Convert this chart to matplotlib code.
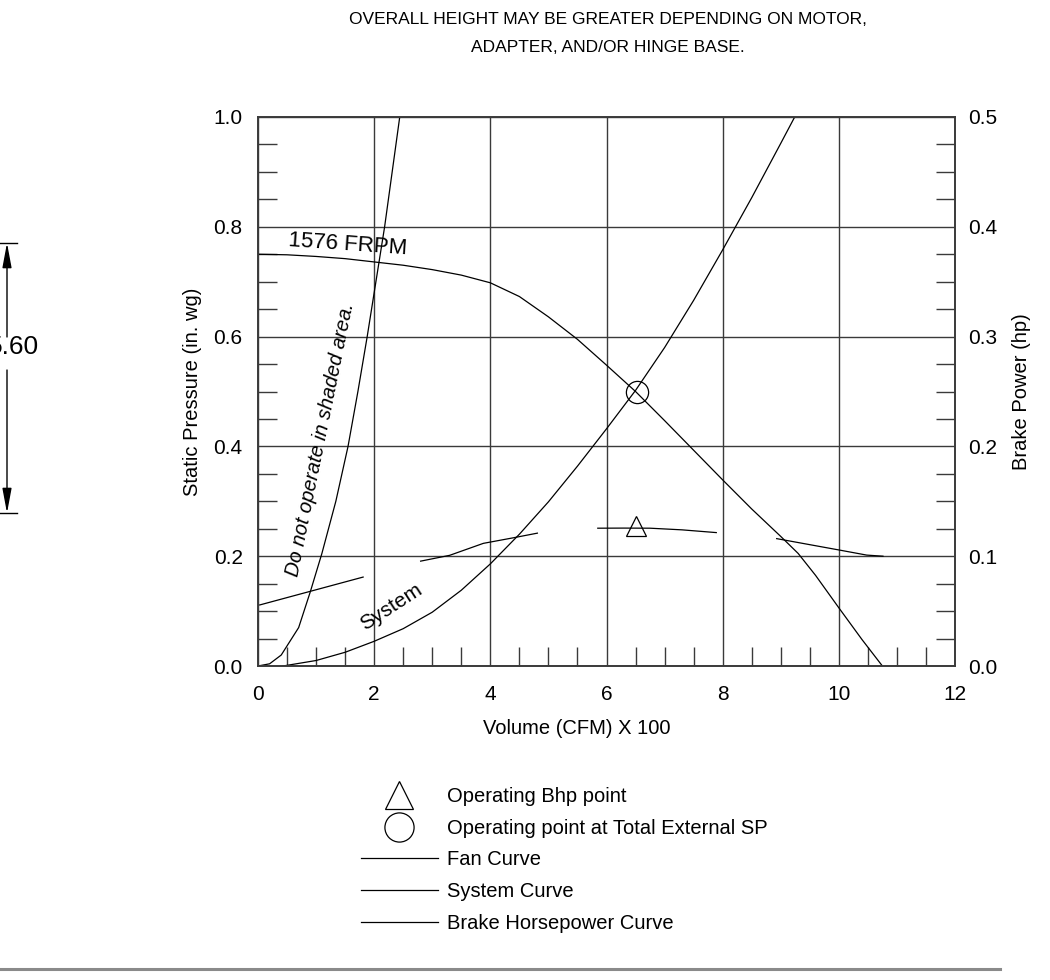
import matplotlib
matplotlib.use('Agg')
import matplotlib.pyplot as plt
from matplotlib.lines import Line2D
from matplotlib.ticker import MultipleLocator, FormatStrFormatter

plt.rcParams['font.family'] = ['Liberation Sans', 'DejaVu Sans']

# fan curve, 1576 FRPM (static pressure, in. wg)
fan_x = [0, 0.5, 1, 1.5, 2, 2.5, 3, 3.5, 4, 4.5, 5, 5.5, 6, 6.5, 7, 7.5, 8, 8.5, 9, 9.3, 9.6, 10, 10.4, 10.75]
fan_y = [0.750, 0.749, 0.746, 0.742, 0.736, 0.730, 0.722, 0.712, 0.698, 0.673, 0.636, 0.595, 0.548, 0.500,
         0.447, 0.393, 0.339, 0.286, 0.236, 0.205, 0.165, 0.106, 0.048, 0.0]

# system curve
sys_x = [0.43, 1, 1.5, 2, 2.5, 3, 3.5, 4, 4.5, 5, 5.5, 6, 6.5, 7, 7.5, 8, 8.5, 9, 9.24]
sys_y = [0.0, 0.010, 0.025, 0.045, 0.068, 0.098, 0.138, 0.186, 0.240, 0.299, 0.364, 0.432, 0.502,
         0.580, 0.666, 0.758, 0.853, 0.952, 1.0]

# "do not operate" boundary
dno_x = [0, 0.2, 0.40, 0.70, 0.90, 1.10, 1.34, 1.55, 1.72, 1.88, 2.03, 2.18, 2.31, 2.44]
dno_y = [0, 0.004, 0.020, 0.070, 0.135, 0.205, 0.300, 0.400, 0.500, 0.600, 0.700, 0.800, 0.900, 1.0]

# brake horsepower curve pieces (hp)
bhp_x = [[0.03, 1.81],
         [2.8, 3.3, 3.88, 4.4, 4.81],
         [5.85, 6.3, 6.75, 7.3, 7.89],
         [8.93, 9.5, 10.02, 10.48, 10.76]]
bhp_y = [[0.0556, 0.081],
         [0.0955, 0.1008, 0.1117, 0.1168, 0.121],
         [0.1255, 0.1256, 0.1255, 0.124, 0.1215],
         [0.116, 0.1105, 0.1055, 0.101, 0.100]]

op_sp = (6.52, 0.50)
op_bhp = (6.51, 0.1275)

W, H = 1050, 980
fig = plt.figure(figsize=(W / 100, H / 100), dpi=100)
ax = fig.add_axes([258 / W, 1 - 666 / H, 697 / W, 549 / H])
ax2 = ax.twinx()

k = 'black'
lw = 0.9
ax.plot(fan_x, fan_y, color=k, lw=lw)
ax.plot(sys_x, sys_y, color=k, lw=lw)
ax.plot(dno_x, dno_y, color=k, lw=lw)
for xs, ys in zip(bhp_x, bhp_y):
    ax2.plot(xs, ys, color=k, lw=lw)
ax.plot(*op_sp, marker='o', ms=16, mfc='none', mec=k, mew=0.9, ls='none')
ax2.plot(*op_bhp, marker='^', ms=14, mfc='none', mec=k, mew=0.9, ls='none')

ax.set_xlim(0, 12)
ax.set_ylim(0, 1.0)
ax2.set_ylim(0, 0.5)

ax.xaxis.set_major_locator(MultipleLocator(2))
ax.xaxis.set_minor_locator(MultipleLocator(0.5))
ax.yaxis.set_major_locator(MultipleLocator(0.2))
ax.yaxis.set_minor_locator(MultipleLocator(0.05))
ax.yaxis.set_major_formatter(FormatStrFormatter('%.1f'))
ax2.yaxis.set_major_locator(MultipleLocator(0.1))
ax2.yaxis.set_minor_locator(MultipleLocator(0.025))
ax2.yaxis.set_major_formatter(FormatStrFormatter('%.1f'))

ax.grid(True, which='major', color='#3a3a3a', lw=1.0)
ax.tick_params(which='major', length=0, labelsize=15)
ax.tick_params(axis='x', which='major', pad=14)
ax.tick_params(axis='y', which='major', pad=11)
ax.tick_params(which='minor', direction='in', length=13.5, width=1.0, color='#3a3a3a')
ax2.tick_params(which='major', length=0, labelsize=15, pad=9.5)
ax2.tick_params(which='minor', direction='in', length=13.5, width=1.0, color='#3a3a3a')
for a in (ax, ax2):
    for s in a.spines.values():
        s.set_color('#3a3a3a')
        s.set_linewidth(1.2)

ax.set_xlabel('Volume (CFM) X 100', fontsize=14.5)
ax.xaxis.set_label_coords(0.458, -0.096)
ax.set_ylabel('Static Pressure (in. wg)', fontsize=14.5)
ax.yaxis.set_label_coords(-0.081, 0.5)
ax2.set_ylabel('Brake Power (hp)', fontsize=14.5)
ax2.yaxis.set_label_coords(1.082, 0.5)

ax.text(1.55, 0.767, '1576 FRPM', fontsize=16, rotation=-4, ha='center', va='center')
ax.text(1.07, 0.412, 'Do not operate in shaded area.', fontsize=14.5, style='italic',
        rotation=78.5, ha='center', va='center')
ax.text(2.30, 0.108, 'System', fontsize=15, rotation=33, ha='center', va='center')

fig.text(608 / W, 1 - 20 / H, 'OVERALL HEIGHT MAY BE GREATER DEPENDING ON MOTOR,',
         fontsize=12.5, ha='center', va='center')
fig.text(608 / W, 1 - 47 / H, 'ADAPTER, AND/OR HINGE BASE.',
         fontsize=12.5, ha='center', va='center')

# legend
handles = [Line2D([], [], ls='none', marker='^', ms=20, mfc='none', mec=k, mew=0.9),
           Line2D([], [], ls='none', marker='o', ms=21, mfc='none', mec=k, mew=0.9),
           Line2D([], [], color=k, lw=lw),
           Line2D([], [], color=k, lw=lw),
           Line2D([], [], color=k, lw=lw)]
labels = ['Operating Bhp point', 'Operating point at Total External SP', 'Fan Curve', 'System Curve',
          'Brake Horsepower Curve']
fig.legend(handles, labels, loc='upper left', bbox_to_anchor=(361 / W, 1 - 787 / H), frameon=False,
           fontsize=14.5, handlelength=3.8, handletextpad=0.45, labelspacing=0.63, borderpad=0,
           borderaxespad=0)

# dimension marker on the left edge
def fp(x, y):
    return (x / W, 1 - y / H)

arrow = dict(arrowstyle='-|>,head_length=1.5,head_width=0.28', color=k, lw=1, shrinkA=0, shrinkB=0)
fig.add_artist(Line2D([0, 17 / W], [fp(0, 243)[1]] * 2, color=k, lw=1))
fig.add_artist(Line2D([0, 17 / W], [fp(0, 513)[1]] * 2, color=k, lw=1))
ax.annotate('', xy=fp(7, 243), xytext=fp(7, 337), xycoords='figure fraction', arrowprops=arrow)
ax.annotate('', xy=fp(7, 513), xytext=fp(7, 370), xycoords='figure fraction', arrowprops=arrow)
fig.text(14 / W, 1 - 347 / H, '5.60', fontsize=19, ha='center', va='center')

# bottom rule
fig.add_artist(Line2D([0, 1000 / W], [1 - 969 / H] * 2, color='#8a8a8a', lw=2.2))

fig.savefig('out.png', dpi=100)
